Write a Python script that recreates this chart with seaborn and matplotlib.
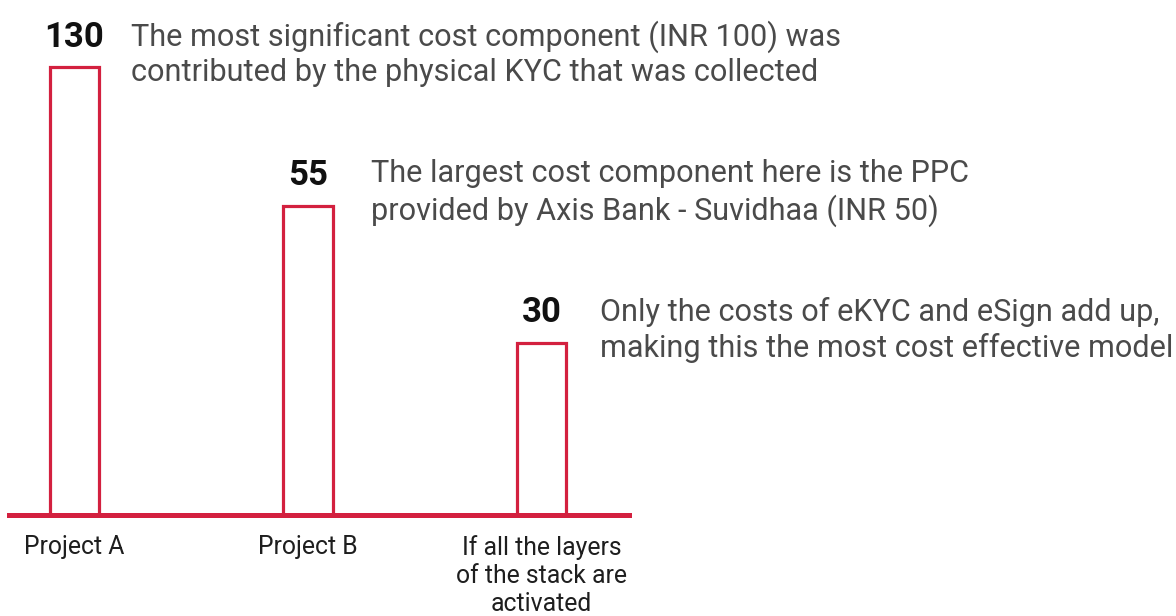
import matplotlib
matplotlib.use("Agg")
import matplotlib.pyplot as plt
import seaborn as sns
import pandas as pd

# ---- data ----
categories = ["Project A", "Project B", "If all the layers\nof the stack are\nactivated"]
cost_values = [130, 55, 30]                 # labels shown above the bars
bar_heights_shown = [100, 69.05, 38.35]     # drawn bar heights (relative, as in the picture)
notes = [
    "The most significant cost component (INR 100) was\ncontributed by the physical KYC that was collected",
    "The largest cost component here is the PPC\nprovided by Axis Bank - Suvidhaa (INR 50)",
    "Only the costs of eKYC and eSign add up,\nmaking this the most cost effective model",
]

# ---- style ----
RED = "#D3203F"
note_dx_pt = [40.5, 45.0, 42.0]

sns.set_theme(style="white")
plt.rcParams["font.family"] = ["Roboto", "DejaVu Sans"]

W, H = 1176, 616
fig = plt.figure(figsize=(W / 100, H / 100), dpi=100)
left_px, right_px, base_px = 9, 629, 514.5
ax = fig.add_axes([left_px / W, (H - base_px) / H, (right_px - left_px) / W, base_px / H])

df = pd.DataFrame({"cat": categories, "h": bar_heights_shown})
sns.barplot(data=df, x="cat", y="h", fill=False, color=RED, width=0.212,
            linewidth=2.3, errorbar=None, ax=ax)
for p in ax.patches:
    p.set_edgecolor(RED)
    p.set_clip_on(False)

ax.set_xlim(-0.2805, 2.3747)
ax.set_ylim(0, 100 * base_px / 447.2)
ax.set_xlabel("")
ax.set_ylabel("")
ax.set_yticks([])
for s in ["top", "left", "right"]:
    ax.spines[s].set_visible(False)
ax.spines["bottom"].set_color(RED)
ax.spines["bottom"].set_linewidth(3.6)
ax.tick_params(axis="x", length=0, pad=14.5)
ax.set_xticks(range(len(categories)))
ax.set_xticklabels(categories, fontsize=17.8, color="#1e1e1e", linespacing=1.22)
ax.set_facecolor("none")
fig.patch.set_facecolor("white")

line_step_pt = 27.1
for i, (v, h, note) in enumerate(zip(cost_values, bar_heights_shown, notes)):
    ax.annotate(str(v), xy=(i, h), xytext=(0, 14.8), textcoords="offset points",
                ha="center", va="baseline", fontsize=25, fontweight="bold",
                color="#111111", annotation_clip=False)
    n_lines = note.count("\n") + 1
    ax.annotate(note, xy=(i, h),
                xytext=(note_dx_pt[i], 17.3 - (n_lines - 1) * line_step_pt),
                textcoords="offset points",
                ha="left", va="baseline", fontsize=22.1, color="#4a4a4a",
                linespacing=1.22, annotation_clip=False)

fig.savefig("out.png", dpi=100)
